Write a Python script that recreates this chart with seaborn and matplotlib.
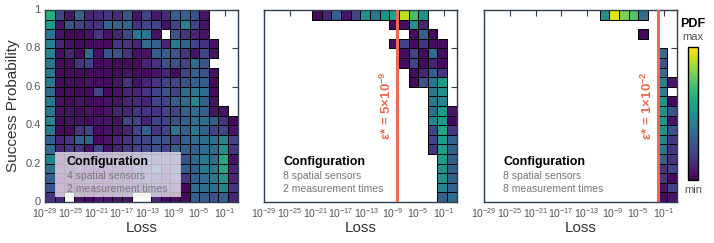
import numpy as np
import matplotlib
matplotlib.use("Agg")
import matplotlib.pyplot as plt
import seaborn as sns
from matplotlib.patches import Rectangle

n = np.nan

# log10(loss) bins: 20 bins of 1.5 decades starting at 1e-29; success prob: 20 bins of 0.05
loss_lo = -29
loss_step = 1.5
n_bins = 20
loss_ticks = [-29, -25, -21, -17, -13, -9, -5, -1]
prob_ticks = [0, 0.2, 0.4, 0.6, 0.8, 1]
prob_labels = ["0", "0.2", "0.4", "0.6", "0.8", "1"]

sensors = ["4 spatial sensors", "8 spatial sensors", "8 spatial sensors"]
times = ["2 measurement times", "2 measurement times", "8 measurement times"]
eps_star = [None, 5e-9, 1e-2]
eps_text = [None, "ε* = 5×10$^{-9}$", "ε* = 1×10$^{-2}$"]

# normalised PDF per cell, rows from top (p=1) to bottom (p=0), cols from low to high loss
pdf_4s_2t = [
    [0.62, 0.2, 0.05, 0.3, 0.1, 0.12, 0.15, 0.12, 0.25, 0.05, 0.2, 0.06, 0.12, 0.3, 0.3, 0.25, 0.05, n, n, n],
    [0.55, 0.05, 0.25, 0.2, 0.15, 0.15, 0.33, 0.32, 0.33, 0.15, 0.2, 0.2, 0.05, 0.2, 0.45, 0.2, 0.05, n, n, n],
    [0.38, 0.05, 0.02, 0.02, 0.05, 0.15, 0.05, 0.1, 0.2, 0.4, 0.38, 0.05, n, 0.25, 0.15, 0.1, 0.05, n, n, n],
    [0.45, 0.1, 0.05, 0.03, 0.03, 0.03, 0.03, 0.15, 0.15, 0.1, 0.35, 0.3, 0.1, 0.4, 0.3, 0.2, 0.15, 0.05, n, n],
    [0.45, 0.04, 0.1, 0.03, 0.35, 0.04, 0.25, 0.25, 0.15, 0.04, 0.05, 0.3, 0.3, 0.25, 0.15, 0.05, 0.2, 0.05, n, n],
    [0.4, 0.03, 0.03, 0.15, 0.2, 0.03, 0.03, 0.03, 0.03, 0.03, 0.1, 0.15, 0.25, 0.25, 0.2, 0.35, 0.25, n, n, n],
    [0.4, 0.03, 0.03, 0.03, 0.03, 0.03, 0.03, 0.03, 0.05, 0.03, 0.03, 0.05, 0.1, 0.03, 0.2, 0.3, 0.25, 0.05, n, n],
    [0.4, 0.03, 0.03, 0.03, 0.05, 0.03, 0.03, 0.05, 0.15, 0.05, 0.1, 0.15, 0.2, 0.2, 0.25, 0.3, 0.3, 0.03, n, n],
    [0.35, 0.03, 0.03, 0.03, 0.03, 0.2, 0.03, 0.05, 0.1, 0.1, 0.15, 0.2, 0.25, 0.2, 0.35, 0.4, 0.35, 0.03, n, n],
    [0.4, 0.05, 0.03, 0.05, 0.03, 0.03, 0.05, 0.05, 0.1, 0.12, 0.1, 0.2, 0.2, 0.3, 0.35, 0.45, 0.3, 0.05, n, n],
    [0.4, 0.05, 0.05, 0.03, 0.05, 0.03, 0.05, 0.1, 0.1, 0.15, 0.15, 0.15, 0.2, 0.2, 0.3, 0.35, 0.3, 0.05, 0.05, n],
    [0.45, 0.03, 0.05, 0.05, 0.03, 0.05, 0.05, 0.05, 0.2, 0.2, 0.1, 0.2, 0.2, 0.25, 0.3, 0.35, 0.35, 0.3, 0.15, 0.02],
    [0.4, 0.03, 0.03, 0.15, 0.2, 0.03, 0.05, 0.05, 0.1, 0.2, 0.3, 0.15, 0.2, 0.4, 0.3, 0.4, 0.3, 0.2, 0.2, 0.05],
    [0.3, 0.1, 0.15, 0.3, 0.3, 0.03, 0.05, 0.1, 0.15, 0.2, 0.2, 0.25, 0.25, 0.2, 0.3, 0.35, 0.35, 0.35, 0.45, 0.2],
    [0.35, 0.1, 0.15, 0.15, 0.05, 0.2, 0.05, 0.1, 0.15, 0.2, 0.2, 0.25, 0.2, 0.3, 0.3, 0.3, 0.35, 0.35, 0.5, 0.15],
    [0.45, 0.03, 0.05, 0.1, 0.05, 0.05, 0.05, 0.1, 0.1, 0.15, 0.3, 0.2, 0.2, 0.2, 0.25, 0.35, 0.4, 0.35, 0.6, 0.05],
    [0.35, 0.05, 0.05, 0.1, 0.05, 0.05, 0.1, 0.05, 0.1, 0.2, 0.2, 0.35, 0.15, 0.25, 0.3, 0.3, 0.4, 0.4, 0.6, 0.1],
    [0.3, 0.03, 0.05, 0.05, 0.1, 0.05, 0.05, 0.1, 0.05, 0.15, 0.2, 0.15, 0.1, 0.2, 0.15, 0.3, 0.35, 0.4, 0.5, 0.1],
    [0.25, 0.05, 0.03, 0.05, 0.05, 0.05, 0.03, 0.05, 0.1, 0.1, 0.15, 0.15, 0.1, 0.1, 0.02, 0.35, 0.35, 0.35, 0.45, 0.15],
    [0.15, 0.1, n, 0.05, 0.03, 0.05, 0.05, 0.05, 0.05, n, n, 0.1, 0.03, 0.03, 0.03, 0.3, 0.3, 0.25, 0.3, 0.1],
]

pdf_8s_2t = [
    [n, n, n, n, n, 0.02, 0.1, 0.3, 0.05, 0.2, 0.5, 0.4, 0.5, 0.58, 0.9, 0.7, 0.5, n, n, n],
    [n, n, n, n, n, n, n, n, n, n, n, n, n, 0.03, 0.03, 0.5, 0.1, n, n, n],
    [n, n, n, n, n, n, n, n, n, n, n, n, n, n, n, 0.03, 0.3, 0.03, n, n],
    [n, n, n, n, n, n, n, n, n, n, n, n, n, 0.03, 0.2, 0.03, 0.15, 0.03, 0.03, n],
    [n, n, n, n, n, n, n, n, n, n, n, n, n, n, 0.03, 0.2, 0.03, 0.35, 0.03, n],
    [n, n, n, n, n, n, n, n, n, n, n, n, n, n, 0.03, 0.2, 0.03, 0.1, 0.03, n],
    [n, n, n, n, n, n, n, n, n, n, n, n, n, n, n, 0.03, 0.1, 0.3, 0.15, n],
    [n, n, n, n, n, n, n, n, n, n, n, n, n, n, n, 0.03, 0.25, 0.4, 0.55, n],
    [n, n, n, n, n, n, n, n, n, n, n, n, n, n, n, n, n, 0.4, 0.5, n],
    [n, n, n, n, n, n, n, n, n, n, n, n, n, n, n, n, n, 0.4, 0.45, n],
    [n, n, n, n, n, n, n, n, n, n, n, n, n, n, n, n, n, 0.35, 0.55, 0.05],
    [n, n, n, n, n, n, n, n, n, n, n, n, n, n, n, n, n, 0.45, 0.55, 0.02],
    [n, n, n, n, n, n, n, n, n, n, n, n, n, n, n, n, n, 0.2, 0.6, 0.15],
    [n, n, n, n, n, n, n, n, n, n, n, n, n, n, n, n, n, 0.2, 0.55, 0.3],
    [n, n, n, n, n, n, n, n, n, n, n, n, n, n, n, n, n, 0.15, 0.55, 0.3],
    [n, n, n, n, n, n, n, n, n, n, n, n, n, n, n, n, n, n, 0.55, 0.3],
    [n, n, n, n, n, n, n, n, n, n, n, n, n, n, n, n, n, n, 0.5, 0.3],
    [n, n, n, n, n, n, n, n, n, n, n, n, n, n, n, n, n, n, 0.5, 0.3],
    [n, n, n, n, n, n, n, n, n, n, n, n, n, n, n, n, n, n, 0.45, 0.3],
    [n, n, n, n, n, n, n, n, n, n, n, n, n, n, n, n, n, n, 0.3, 0.35],
]

pdf_8s_8t = [
    [n, n, n, n, n, n, n, n, n, n, n, n, 0.5, 0.95, 0.8, 0.72, 0.35, n, n, n],
    [n, n, n, n, n, n, n, n, n, n, n, n, n, n, n, n, n, n, n, n],
    [n, n, n, n, n, n, n, n, n, n, n, n, n, n, n, n, 0.02, n, n, n],
    [n, n, n, n, n, n, n, n, n, n, n, n, n, n, n, n, n, n, n, n],
    [n, n, n, n, n, n, n, n, n, n, n, n, n, n, n, n, n, n, 0.35, n],
    [n, n, n, n, n, n, n, n, n, n, n, n, n, n, n, n, n, n, 0.25, n],
    [n, n, n, n, n, n, n, n, n, n, n, n, n, n, n, n, n, n, 0.35, n],
    [n, n, n, n, n, n, n, n, n, n, n, n, n, n, n, n, n, n, 0.45, 0.05],
    [n, n, n, n, n, n, n, n, n, n, n, n, n, n, n, n, n, n, 0.42, n],
    [n, n, n, n, n, n, n, n, n, n, n, n, n, n, n, n, n, n, 0.5, 0.02],
    [n, n, n, n, n, n, n, n, n, n, n, n, n, n, n, n, n, n, 0.5, 0.25],
    [n, n, n, n, n, n, n, n, n, n, n, n, n, n, n, n, n, n, 0.5, 0.05],
    [n, n, n, n, n, n, n, n, n, n, n, n, n, n, n, n, n, n, 0.5, 0.25],
    [n, n, n, n, n, n, n, n, n, n, n, n, n, n, n, n, n, n, 0.45, 0.15],
    [n, n, n, n, n, n, n, n, n, n, n, n, n, n, n, n, n, n, 0.4, 0.15],
    [n, n, n, n, n, n, n, n, n, n, n, n, n, n, n, n, n, n, 0.3, 0.15],
    [n, n, n, n, n, n, n, n, n, n, n, n, n, n, n, n, n, n, 0.15, 0.2],
    [n, n, n, n, n, n, n, n, n, n, n, n, n, n, n, n, n, n, 0.15, 0.02],
    [n, n, n, n, n, n, n, n, n, n, n, n, n, n, n, n, n, n, 0.05, 0.2],
    [n, n, n, n, n, n, n, n, n, n, n, n, n, n, n, n, n, n, 0.02, 0.05],
]

panels = [pdf_4s_2t, pdf_8s_2t, pdf_8s_8t]

sns.set_style("white")
plt.rcParams["font.family"] = ["Liberation Sans", "DejaVu Sans"]
plt.rcParams["mathtext.fontset"] = "custom"
plt.rcParams["mathtext.rm"] = "Liberation Sans"
plt.rcParams["mathtext.default"] = "regular"

red = "#ef6a4f"
spine_col = "#2c3e50"

fig = plt.figure(figsize=(7.14, 2.43), dpi=100)
lefts = [0.063, 0.3697, 0.678]
cax = fig.add_axes([0.9636, 0.259, 0.014, 0.547])

for i, mat in enumerate(panels):
    ax = fig.add_axes([lefts[i], 0.169, 0.270, 0.790])
    data = np.array(mat, dtype=float)
    empty = np.isnan(data)
    sns.heatmap(data, ax=ax, cmap="viridis", vmin=0, vmax=1,
                mask=empty, linewidths=0.6, linecolor="black",
                cbar=(i == 2), cbar_ax=cax if i == 2 else None)
    # only outline the occupied cells
    mesh = ax.collections[0]
    edge = np.zeros((data.size, 4))
    edge[~empty.ravel(), 3] = 1.0
    mesh.set_edgecolor(edge)

    for s in ax.spines.values():
        s.set_visible(True)
        s.set_color(spine_col)
        s.set_linewidth(1.0)
    ax.set_xlim(0, n_bins)
    ax.set_ylim(n_bins, 0)
    ax.set_xticks([(v - loss_lo) / loss_step for v in loss_ticks])
    ax.set_xticklabels(["10$^{%d}$" % v for v in loss_ticks], rotation=0,
                       fontsize=7.5, color="#555555")
    ax.set_yticks([(1 - p) * n_bins for p in prob_ticks])
    if i == 0:
        ax.set_yticklabels(prob_labels, rotation=0, fontsize=8, color="#555555")
        ax.set_ylabel("Success Probability", fontsize=11, color="#333333")
    else:
        ax.set_yticklabels([])
    ax.tick_params(direction="in", top=True, right=True, length=4, width=0.8,
                   color=spine_col, pad=3)
    ax.set_xlabel("Loss", fontsize=11, color="#333333", labelpad=1)

    if i == 0:
        ax.add_patch(Rectangle((0.052, 0.026), 0.653, 0.234, transform=ax.transAxes,
                               facecolor="#f4f0fa", alpha=0.75, edgecolor="none", zorder=3))
    tx = 0.114 if i == 0 else 0.1
    ax.text(tx, 0.208, "Configuration", transform=ax.transAxes, fontsize=9,
            fontweight="bold", color="black", va="center", zorder=4)
    ax.text(tx, 0.137, sensors[i], transform=ax.transAxes, fontsize=7.5,
            color="#777777", va="center", zorder=4)
    ax.text(tx, 0.068, times[i], transform=ax.transAxes, fontsize=7.5,
            color="#777777", va="center", zorder=4)

    if eps_star[i] is not None:
        xe = (np.log10(eps_star[i]) - loss_lo) / loss_step
        ax.axvline(xe, color=red, lw=2.2, zorder=5)
        ax.text(xe - 1.1, 0.5 * n_bins, eps_text[i], rotation=90, color=red,
                fontsize=9.5, fontweight="bold", ha="center", va="center", zorder=5)

cbar = ax.collections[0].colorbar
cbar.outline.set_linewidth(1.0)
cbar.outline.set_edgecolor("black")
cax.set_yticks([])
cax.text(0.5, 1.04, "max", transform=cax.transAxes, ha="center", va="bottom",
         fontsize=8, color="#555555")
cax.text(0.5, 1.13, "PDF", transform=cax.transAxes, ha="center", va="bottom",
         fontsize=9, fontweight="bold", color="black")
cax.text(0.5, -0.04, "min", transform=cax.transAxes, ha="center", va="top",
         fontsize=8, color="#555555")

fig.savefig("out.png", dpi=100)
